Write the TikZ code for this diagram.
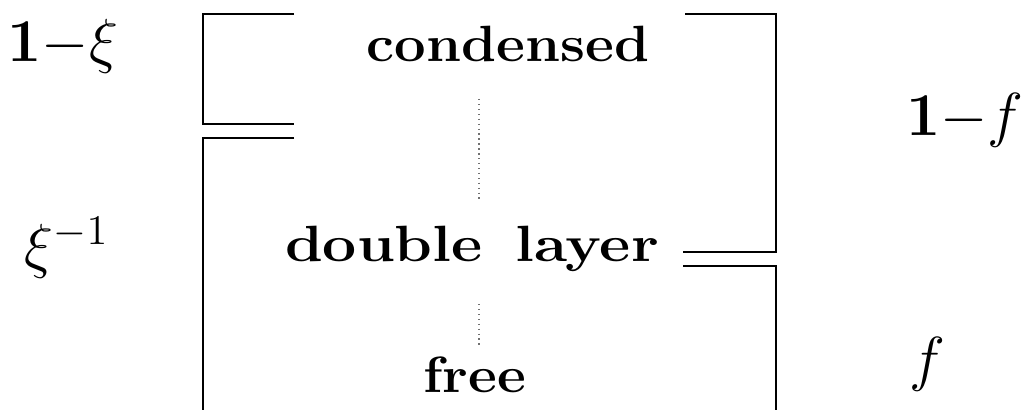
\documentclass[tikz,border=0pt]{standalone}
\usepackage{amsmath}
\usepackage{tikz}
\usetikzlibrary{positioning}
\definecolor{Muted}{HTML}{707070}
\tikzset{
  phase/.style={font=\fontsize{14.5}{17}\selectfont\bfseries,xscale=1.1,inner sep=0pt,anchor=base},
  frac/.style={font=\fontsize{16.5}{19}\selectfont,inner sep=0pt,anchor=base},
  brack/.style={line width=.8pt,line cap=butt},
  link/.style={densely dotted,line width=.4pt,Muted},
}
\begin{document}
\begin{tikzpicture}[x=.01cm,y=.01cm]
  \useasboundingbox (0,0) rectangle (1025,410);
  % brackets on the left
  \draw[brack] (294,396) -- (203,396) -- (203,286) -- (294,286);
  \draw[brack] (294,272) -- (203,272) -- (203,0);
  % brackets on the right
  \draw[brack] (685,396) -- (776,396) -- (776,158) -- (683,158);
  \draw[brack] (683,144) -- (776,144) -- (776,0);
  % phases
  \node[phase] (cond) at (508,348) {condensed};
  \node[phase,xscale=1.08] (dbl) at (472,148) {double \,layer};
  \node[phase] (free) at (475,17) {free};
  \draw[link] (cond.south) ++(-29,-36) -- ++(0,-102);
  \draw[link] (dbl.base) ++(7,-42) -- ++(0,-43);
  % fractions
  \node[frac] (xi) at (63,348) {$\mathbf{1}{-}\xi$};
  \node[frac] (xiinv) at (67,143) {$\xi^{-1}$};
  \node[frac] (onef) at (965,274) {$\mathbf{1}{-}f$};
  \node[frac] (ff) at (927,30) {$f$};
\end{tikzpicture}
\end{document}
